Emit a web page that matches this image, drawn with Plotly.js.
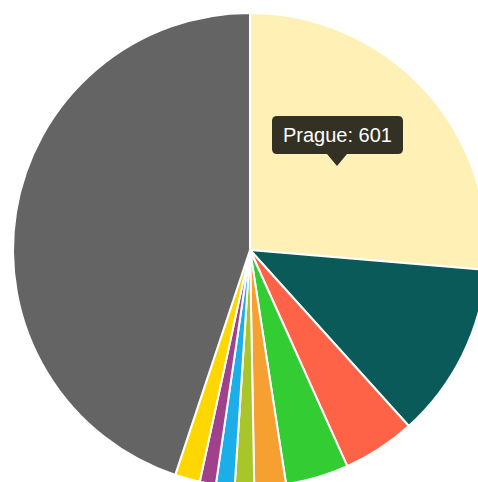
<!DOCTYPE html>
<html><head><meta charset="utf-8">
<script src="https://cdn.plot.ly/plotly-3.0.1.min.js"></script>
<style>html,body{margin:0;padding:0;overflow:hidden;background:#fff;}#chart{width:500px;height:500px;}</style>
</head><body><div id="chart"></div>
<script>
const labels = ["Prague","Brno","Ostrava","Plzeň","Liberec","Olomouc","Ústí nad Labem","Hradec Králové","České Budějovice","Other"];
const values = [601, 273, 113, 98, 49, 30, 29, 25, 39, 1024];
const colors = ["#FFF1B5","#0B5A5A","#FF6347","#33CC33","#F5A030","#A8C62A","#1BAEE9","#A0418C","#FFD700","#646464"];
const tipText = "Prague: 601";

const W = 500, H = 500;
const px = v => v / W, py = v => 1 - v / H;
// tooltip box geometry (pixels)
const bx0 = 272, bx1 = 403, by0 = 116, by1 = 154, r = 5;
const tipX = 337, tipY = 166, caretHalf = 10;
const path = [
  `M ${px(bx0 + r)} ${py(by0)}`,
  `L ${px(bx1 - r)} ${py(by0)}`,
  `Q ${px(bx1)} ${py(by0)} ${px(bx1)} ${py(by0 + r)}`,
  `L ${px(bx1)} ${py(by1 - r)}`,
  `Q ${px(bx1)} ${py(by1)} ${px(bx1 - r)} ${py(by1)}`,
  `L ${px(tipX + caretHalf)} ${py(by1)}`,
  `L ${px(tipX)} ${py(tipY)}`,
  `L ${px(tipX - caretHalf)} ${py(by1)}`,
  `L ${px(bx0 + r)} ${py(by1)}`,
  `Q ${px(bx0)} ${py(by1)} ${px(bx0)} ${py(by1 - r)}`,
  `L ${px(bx0)} ${py(by0 + r)}`,
  `Q ${px(bx0)} ${py(by0)} ${px(bx0 + r)} ${py(by0)}`,
  'Z'
].join(' ');

Plotly.newPlot('chart', [{
  type: 'pie',
  labels: labels,
  values: values,
  sort: false,
  direction: 'clockwise',
  rotation: 0,
  textinfo: 'none',
  hoverinfo: 'none',
  marker: {colors: colors, line: {color: '#ffffff', width: 2}},
  domain: {x: [13 / W, 487 / W], y: [13 / H, 487 / H]}
}], {
  width: W, height: H,
  margin: {l: 0, r: 0, t: 0, b: 0},
  showlegend: false,
  paper_bgcolor: '#ffffff',
  shapes: [{type: 'path', xref: 'paper', yref: 'paper', path: path,
            fillcolor: 'rgba(0,0,0,0.8)', line: {width: 0}}],
  annotations: [{xref: 'paper', yref: 'paper', x: px((bx0 + bx1) / 2), y: py((by0 + by1) / 2),
                 text: tipText, showarrow: false, xanchor: 'center', yanchor: 'middle',
                 font: {family: 'Liberation Sans, Arial, sans-serif', size: 20, color: '#ffffff'}}]
}, {displayModeBar: false, staticPlot: true});
</script></body></html>
